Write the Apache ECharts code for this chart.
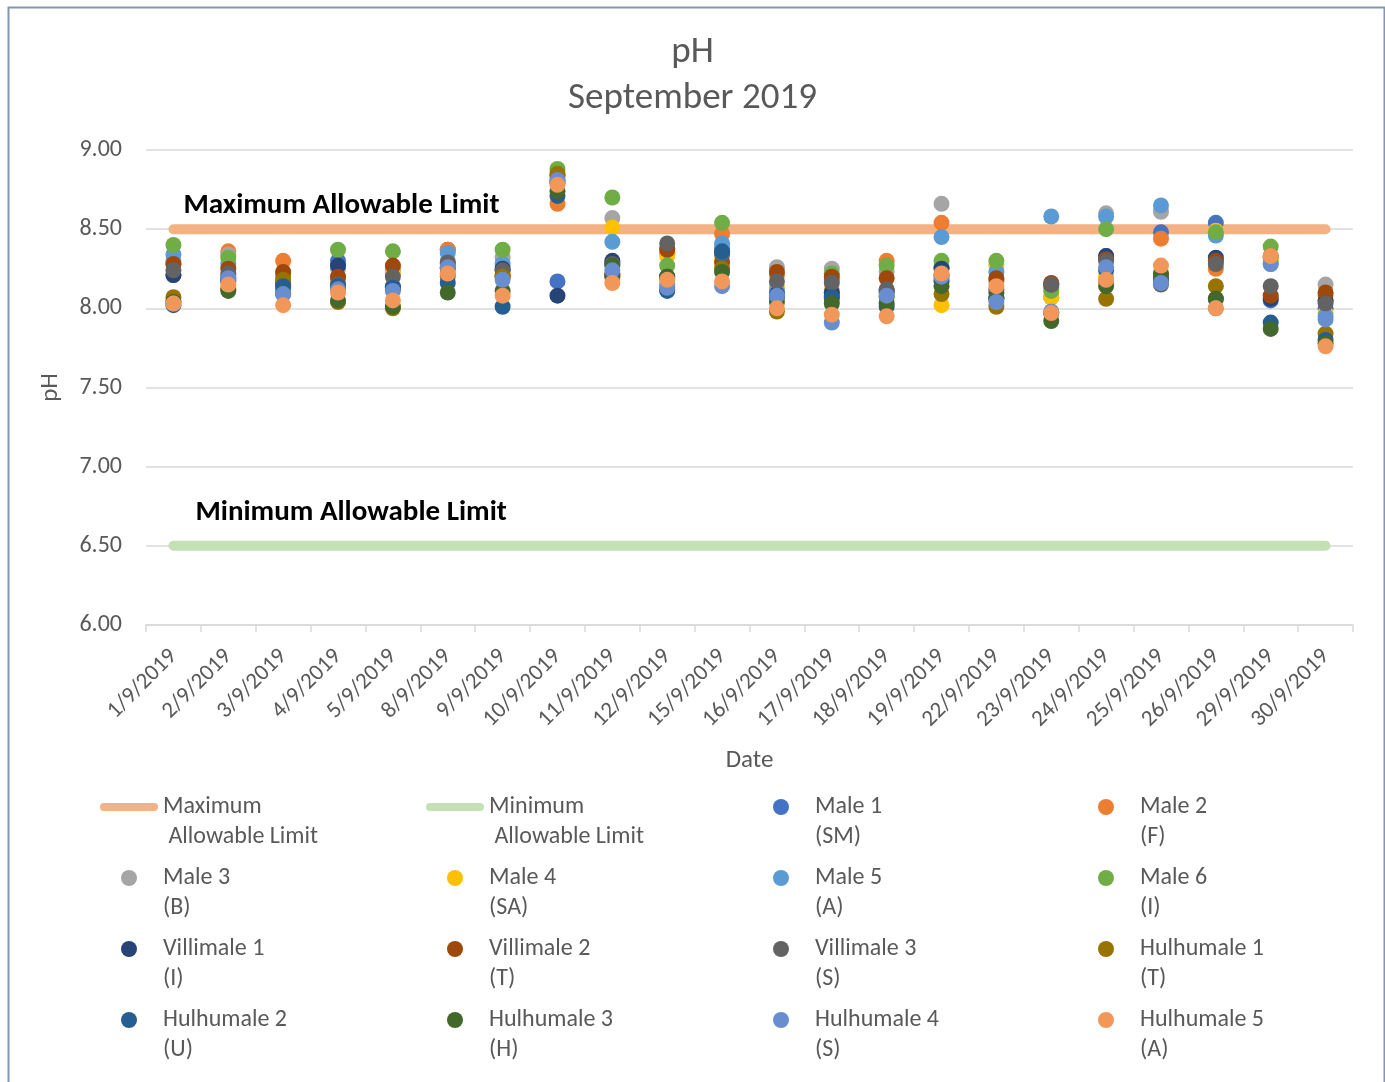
<!DOCTYPE html>
<html>
<head>
<meta charset="utf-8">
<script src="https://cdn.jsdelivr.net/npm/echarts@6/dist/echarts.min.js"></script>
<style>
html,body{margin:0;padding:0;background:#fff;}
#chart{width:1385px;height:1082px;}
</style>
</head>
<body>
<div id="chart"></div>
<script>
const dates = ['1/9/2019','2/9/2019','3/9/2019','4/9/2019','5/9/2019','8/9/2019','9/9/2019','10/9/2019','11/9/2019','12/9/2019','15/9/2019','16/9/2019','17/9/2019','18/9/2019','19/9/2019','22/9/2019','23/9/2019','24/9/2019','25/9/2019','26/9/2019','29/9/2019','30/9/2019'];
const yTicks = [6.00, 6.50, 7.00, 7.50, 8.00, 8.50, 9.00];
const MAX_LIMIT = 8.5;
const MIN_LIMIT = 6.5;

const male1 = [8.21,8.20,8.12,8.30,8.14,8.37,8.24,8.17,8.29,8.12,8.38,8.10,8.08,8.10,8.26,8.06,8.07,8.33,8.48,8.54,8.05,8.00];
const male2 = [8.28,8.36,8.30,8.18,8.26,8.37,8.20,8.66,8.20,8.35,8.47,8.21,8.18,8.30,8.54,8.17,8.14,8.17,8.44,8.25,8.32,8.08];
const male3 = [8.30,8.34,8.22,8.25,8.24,8.30,8.32,8.83,8.57,8.38,8.40,8.26,8.25,8.23,8.66,8.18,8.13,8.60,8.61,8.30,8.32,8.15];
const male4 = [8.05,8.13,8.17,8.12,8.22,8.26,8.22,8.80,8.51,8.33,8.30,8.13,8.12,8.08,8.02,8.27,8.07,8.20,8.22,8.49,8.30,7.97];
const male5 = [8.34,8.28,8.10,8.27,8.12,8.35,8.28,8.79,8.42,8.15,8.41,8.11,8.10,8.11,8.45,8.23,8.58,8.58,8.65,8.46,8.28,7.95];
const male6 = [8.40,8.32,8.20,8.37,8.36,8.22,8.37,8.88,8.70,8.27,8.54,8.08,8.22,8.27,8.30,8.30,8.11,8.50,8.21,8.48,8.39,8.05];
const villimale1 = [8.21,8.18,8.15,8.27,8.13,8.25,8.25,8.08,8.30,8.20,8.35,8.09,8.10,8.11,8.25,8.10,8.15,8.33,8.17,8.32,8.06,8.05];
const villimale2 = [8.28,8.25,8.23,8.20,8.27,8.28,8.20,8.80,8.22,8.37,8.29,8.23,8.20,8.19,8.21,8.19,8.16,8.31,8.20,8.30,8.08,8.10];
const villimale3 = [8.24,8.22,8.16,8.15,8.20,8.29,8.24,8.84,8.28,8.41,8.34,8.17,8.16,8.12,8.18,8.12,8.15,8.30,8.15,8.28,8.14,8.03];
const hulhumale1 = [8.07,8.12,8.18,8.04,8.00,8.20,8.20,8.85,8.20,8.19,8.25,7.98,8.06,8.07,8.09,8.01,7.97,8.06,8.20,8.14,8.33,7.84];
const hulhumale2 = [8.02,8.17,8.14,8.14,8.13,8.16,8.01,8.71,8.21,8.11,8.36,8.07,8.07,8.01,8.17,8.06,7.97,8.24,8.18,8.06,7.91,7.80];
const hulhumale3 = [8.04,8.11,8.09,8.05,8.01,8.10,8.11,8.74,8.27,8.20,8.23,8.04,8.03,8.03,8.14,8.07,7.92,8.14,8.22,8.06,7.87,7.78];
const hulhumale4 = [8.03,8.19,8.09,8.12,8.11,8.26,8.18,8.81,8.24,8.13,8.14,8.08,7.91,8.08,8.20,8.04,7.98,8.26,8.16,8.00,8.28,7.93];
const hulhumale5 = [8.03,8.15,8.02,8.10,8.05,8.22,8.08,8.78,8.16,8.18,8.17,8.00,7.96,7.95,8.22,8.14,7.97,8.18,8.27,8.00,8.33,7.76];

const scatterSeries = [
  ['Male 1\n(SM)', male1, '#4472C4'],
  ['Male 2\n(F)', male2, '#ED7D31'],
  ['Male 3\n(B)', male3, '#A5A5A5'],
  ['Male 4\n(SA)', male4, '#FFC000'],
  ['Male 5\n(A)', male5, '#5B9BD5'],
  ['Male 6\n(I)', male6, '#70AD47'],
  ['Villimale 1\n(I)', villimale1, '#264478'],
  ['Villimale 2\n(T)', villimale2, '#9E480E'],
  ['Villimale 3\n(S)', villimale3, '#636363'],
  ['Hulhumale 1\n(T)', hulhumale1, '#997300'],
  ['Hulhumale 2\n(U)', hulhumale2, '#255E91'],
  ['Hulhumale 3\n(H)', hulhumale3, '#43682B'],
  ['Hulhumale 4\n(S)', hulhumale4, '#698ED0'],
  ['Hulhumale 5\n(A)', hulhumale5, '#F1975A']
];
const MAX_NAME = 'Maximum\n Allowable Limit';
const MIN_NAME = 'Minimum\n Allowable Limit';

const FONT = 'Carlito, Lato, "Open Sans", sans-serif';
const GREY = '#595959';
const lineIcon = 'path://M4,0 L54,0 A4,4 0 0 1 54,8 L4,8 A4,4 0 0 1 4,0 Z';

const chart = echarts.init(document.getElementById('chart'));

function legendCol(left, names) {
  return {
    orient: 'vertical', left: left, top: 757,
    itemWidth: 58, itemHeight: 16, itemGap: -19,
    selectedMode: false,
    formatter: n => '\n' + n,
    data: names.map(n => (n === MAX_NAME || n === MIN_NAME) ? {name: n, icon: lineIcon} : {name: n, icon: 'circle'}),
    textStyle: {fontFamily: FONT, fontSize: 24, color: GREY, lineHeight: 30}
  };
}

const series = [
  {
    name: MAX_NAME, type: 'line', data: dates.map(() => MAX_LIMIT),
    showSymbol: false, symbol: 'none', silent: true,
    lineStyle: {color: '#F4B183', width: 10, cap: 'round'},
    itemStyle: {color: '#F4B183'}, z: 1
  },
  {
    name: MIN_NAME, type: 'line', data: dates.map(() => MIN_LIMIT),
    showSymbol: false, symbol: 'none', silent: true,
    lineStyle: {color: '#C5E0B4', width: 10, cap: 'round'},
    itemStyle: {color: '#C5E0B4'}, z: 1
  }
].concat(scatterSeries.map(s => ({
  name: s[0], type: 'scatter', data: s[1], symbolSize: 16,
  itemStyle: {color: s[2], opacity: 1}, z: 2
})));

chart.setOption({
  animation: false,
  backgroundColor: '#fff',
  title: {
    text: 'pH\nSeptember 2019', left: 'center', top: 25,
    textStyle: {fontFamily: FONT, fontSize: 37, fontWeight: 'normal', color: GREY, lineHeight: 46}
  },
  grid: {left: 146, right: 32, top: 150, bottom: 457},
  xAxis: {
    type: 'category', data: dates, boundaryGap: true,
    name: 'Date', nameLocation: 'middle', nameGap: 123,
    nameTextStyle: {fontFamily: FONT, fontSize: 25, color: GREY},
    axisLine: {lineStyle: {color: '#D9D9D9', width: 1.5}},
    axisTick: {show: true, alignWithLabel: false, length: 7, lineStyle: {color: '#D9D9D9', width: 1.5}},
    axisLabel: {rotate: 45, fontFamily: FONT, fontSize: 23, color: GREY, margin: 28, interval: 0}
  },
  yAxis: {
    type: 'value', min: yTicks[0], max: yTicks[yTicks.length - 1], interval: 0.5,
    name: 'pH', nameLocation: 'middle', nameGap: 83, nameRotate: 90,
    nameTextStyle: {fontFamily: FONT, fontSize: 25, color: GREY},
    axisLine: {show: false}, axisTick: {show: false},
    splitLine: {lineStyle: {color: '#D9D9D9', width: 1.5}},
    axisLabel: {fontFamily: FONT, fontSize: 24, color: GREY, margin: 24, formatter: v => v.toFixed(2)}
  },
  legend: [
    legendCol(95, [MAX_NAME, 'Male 3\n(B)', 'Villimale 1\n(I)', 'Hulhumale 2\n(U)']),
    legendCol(421, [MIN_NAME, 'Male 4\n(SA)', 'Villimale 2\n(T)', 'Hulhumale 3\n(H)']),
    legendCol(768, ['Male 1\n(SM)', 'Male 5\n(A)', 'Villimale 3\n(S)', 'Hulhumale 4\n(S)']),
    legendCol(1093, ['Male 2\n(F)', 'Male 6\n(I)', 'Hulhumale 1\n(T)', 'Hulhumale 5\n(A)'])
  ],
  series: series
});

const pMax = chart.convertToPixel({gridIndex: 0}, [0, MAX_LIMIT]);
const pMin = chart.convertToPixel({gridIndex: 0}, [0, MIN_LIMIT]);
chart.setOption({
  graphic: [
    {type: 'rect', left: 6, top: 5, shape: {width: 1376, height: 1090}, style: {fill: 'none', stroke: '#8496B0', lineWidth: 2}, silent: true},
    {type: 'text', x: pMax[0] + 10, y: pMax[1] - 23, style: {text: 'Maximum Allowable Limit', font: 'bold 29px ' + FONT, fill: '#000', verticalAlign: 'middle'}},
    {type: 'text', x: pMin[0] + 22, y: pMin[1] - 33, style: {text: 'Minimum Allowable Limit', font: 'bold 29px ' + FONT, fill: '#000', verticalAlign: 'middle'}}
  ]
});
</script>
</body>
</html>
